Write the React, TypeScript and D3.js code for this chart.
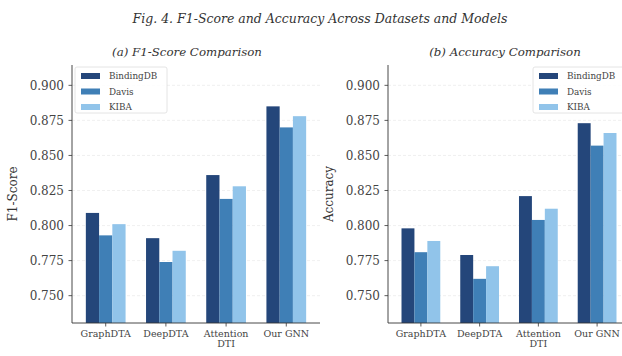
import React from "react";
import * as d3 from "d3";

const width = 622;
const height = 356;

const models = ["GraphDTA", "DeepDTA", "Attention\nDTI", "Our GNN"];
const datasets = ["BindingDB", "Davis", "KIBA"];
const colors = ["#24467a", "#3f7fb6", "#91c4ea"];

// F1 per dataset (BindingDB, Davis, KIBA) for each model
const f1BindingDB = [0.809, 0.791, 0.836, 0.885];
const f1Davis = [0.793, 0.774, 0.819, 0.870];
const f1KIBA = [0.801, 0.782, 0.828, 0.878];

const accBindingDB = [0.798, 0.779, 0.821, 0.873];
const accDavis = [0.781, 0.762, 0.804, 0.857];
const accKIBA = [0.789, 0.771, 0.812, 0.866];

const yTicks = [0.75, 0.775, 0.8, 0.825, 0.85, 0.875, 0.9];

const font = "DejaVu Serif";

const Panel = ({ x0, x1, series, title, ylabel, titleX, legendX }) => {
  const top = 65;
  const bottom = 323;
  const x = d3.scaleLinear().domain([-0.56, 3.56]).range([x0, x1]);
  const y = d3.scaleLinear().domain([0.7305, 0.9145]).range([bottom, top]);
  const bw = 0.22;
  const off = [-bw, 0, bw];

  return (
    <g>
      <text x={titleX} y={56} textAnchor="middle" fontFamily={font} fontStyle="italic" fontSize={11.8} fill="#333">
        {title}
      </text>
      {yTicks.map((t) => (
        <line key={"g" + t} x1={x0} x2={x1} y1={y(t)} y2={y(t)} stroke="#e6e6e6" strokeWidth={0.6} strokeDasharray="3,2" />
      ))}
      {series.map((vals, si) =>
        vals.map((v, i) => (
          <rect
            key={si + "-" + i}
            x={x(i + off[si] - bw / 2)}
            width={x(bw) - x(0)}
            y={y(v)}
            height={bottom - y(v)}
            fill={colors[si]}
          />
        ))
      )}
      <line x1={x0} x2={x0} y1={top} y2={bottom} stroke="#333" strokeWidth={0.9} />
      <line x1={x0} x2={x1} y1={bottom} y2={bottom} stroke="#333" strokeWidth={0.9} />
      {yTicks.map((t) => (
        <g key={"t" + t}>
          <line x1={x0 - 3.5} x2={x0} y1={y(t)} y2={y(t)} stroke="#333" strokeWidth={0.8} />
          <text x={x0 - 8} y={y(t)} dy="0.35em" textAnchor="end" fontFamily={font} fontSize={12} fill="#444">
            {t.toFixed(3)}
          </text>
        </g>
      ))}
      {models.map((m, i) => (
        <g key={m}>
          <line x1={x(i)} x2={x(i)} y1={bottom} y2={bottom + 3.5} stroke="#333" strokeWidth={0.8} />
          {m.split("\n").map((ln, k) => (
            <text key={k} x={x(i)} y={bottom + 14 + k * 10} textAnchor="middle" fontFamily={font} fontSize={9.5} fill="#444">
              {ln}
            </text>
          ))}
        </g>
      ))}
      <text
        transform={`translate(${x0 - 55},${(top + bottom) / 2}) rotate(-90)`}
        textAnchor="middle"
        fontFamily={font}
        fontSize={12}
        fill="#333"
      >
        {ylabel}
      </text>
      <g transform={`translate(${legendX},67)`}>
        <rect x={0} y={0} width={92} height={46} rx={2} fill="#fff" fillOpacity={0.85} stroke="#ddd" strokeWidth={0.8} />
        {datasets.map((d, k) => (
          <g key={d} transform={`translate(0,${9 + k * 15.5})`}>
            <rect x={6} y={-3} width={19} height={6} fill={colors[k]} />
            <text x={34} y={0} dy="0.35em" fontFamily={font} fontSize={8.8} fill="#444">
              {d}
            </text>
          </g>
        ))}
      </g>
    </g>
  );
};

const App = () => {
  return (
    <svg width={width} height={height} style={{ display: "block", position: "absolute", left: 0, top: 0, background: "#fff" }}>
      <text x={320} y={23} textAnchor="middle" fontFamily={font} fontStyle="italic" fontSize={12.5} fill="#333">
        Fig. 4. F1-Score and Accuracy Across Datasets and Models
      </text>
      <Panel
        x0={72}
        x1={320}
        series={[f1BindingDB, f1Davis, f1KIBA]}
        title="(a) F1-Score Comparison"
        ylabel="F1-Score"
        titleX={187}
        legendX={75}
      />
      <Panel
        x0={388}
        x1={630}
        series={[accBindingDB, accDavis, accKIBA]}
        title="(b) Accuracy Comparison"
        ylabel="Accuracy"
        titleX={505}
        legendX={533}
      />
    </svg>
  );
};

export default App;
